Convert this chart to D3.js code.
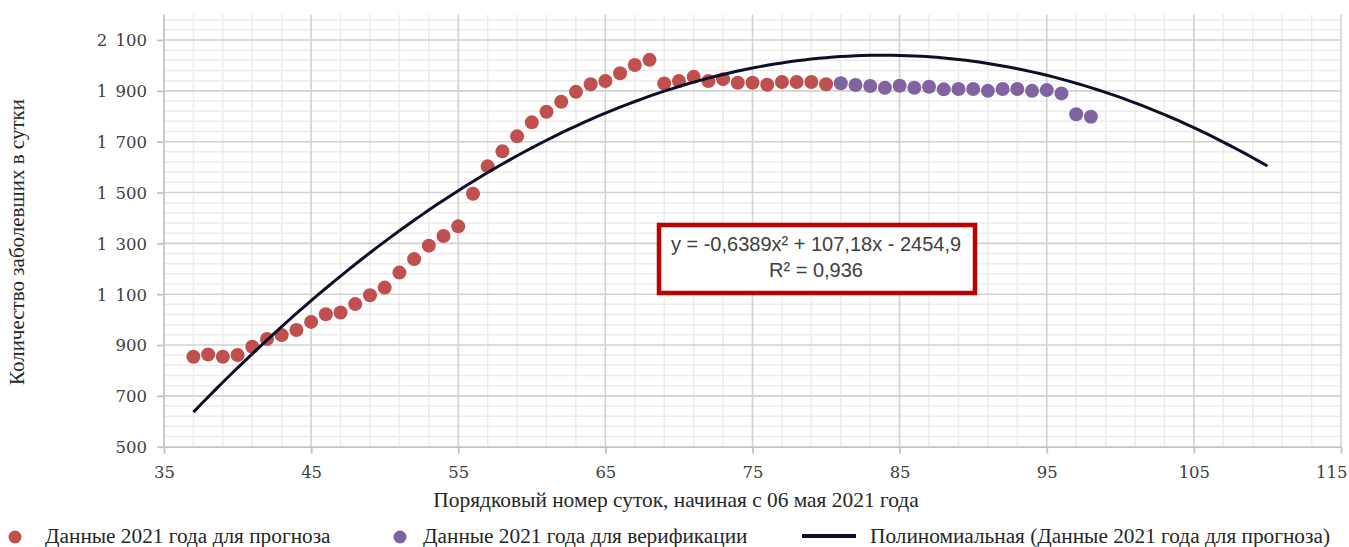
<!DOCTYPE html>
<html lang="ru">
<head>
<meta charset="utf-8">
<script src="https://cdn.jsdelivr.net/npm/d3@7"></script>
<style>
  html, body { margin: 0; padding: 0; background: #ffffff; }
  svg { display: block; }
  .tick-label { font-family: "DejaVu Serif", serif; font-size: 16.5px; fill: #404040; }
  .title { font-family: "Liberation Serif", serif; font-size: 21.4px; fill: #262626; }
  .legend-text { font-family: "Liberation Serif", serif; font-size: 21.3px; fill: #262626; }
  .eq { font-family: "Liberation Sans", sans-serif; font-size: 20px; fill: #404040; }
</style>
</head>
<body>
<svg id="chart" width="1349" height="547"></svg>
<script>
// Daily new cases: days used for the forecast fit
const forecastDays = [37,38,39,40,41,42,43,44,45,46,47,48,49,50,51,52,53,54,55,56,57,58,
                      59,60,61,62,63,64,65,66,67,68,69,70,71,72,73,74,75,76,77,78,79,80];
const forecastCases = [854,863,854,861,893,924,939,959,991,1021,1028,1061,1096,1126,1185,1238,
                       1291,1329,1367,1495,1603,1662,1721,1776,1818,1857,1896,1926,1939,1969,2002,2022,
                       1929,1939,1955,1939,1946,1932,1932,1924,1935,1935,1935,1926];

// Days held out for verification
const verifyDays = [81,82,83,84,85,86,87,88,89,90,91,92,93,94,95,96,97,98];
const verifyCases = [1930,1923,1919,1912,1920,1912,1916,1906,1907,1907,1900,1907,1907,1900,1903,1890,1808,1798];

// Polynomial trend (order 2): y = c0 + c1*x + c2*x^2, drawn from first day to forecast end
const trendCoef = [-2454.9, 107.18, -0.6389];
const trendRange = [37, 110];
const trendLabel = ["y = -0,6389x² + 107,18x - 2454,9", "R² = 0,936"];

// Axis ticks
const xTicks = [35,45,55,65,75,85,95,105,115];
const xTickLabels = ["35","45","55","65","75","85","95","105","115"];
const yTicks = [500,700,900,1100,1300,1500,1700,1900,2100];
const yTickLabels = ["500","700","900","1\u2002100","1\u2002300","1\u2002500","1\u2002700","1\u2002900","2\u2002100"];

const xTitle = "Порядковый номер суток, начиная с 06 мая 2021 года";
const yTitle = "Количество заболевших в сутки";
const legendLabels = ["Данные 2021 года для прогноза", "Данные 2021 года для верификации",
                      "Полиномиальная (Данные 2021 года для прогноза)"];

const colors = { forecast: "#C0504D", verify: "#8064A2", trend: "#0b1028" };

const svg = d3.select("#chart");
const x = d3.scaleLinear().domain([35, 115]).range([164, 1341]);
const y = d3.scaleLinear().domain([500, 2200]).range([446.7, 14.6]);

// Minor gridlines
const minorX = d3.range(37, 115, 2).filter(v => (v - 35) % 10 !== 0);
const minorY = d3.range(540, 2200, 40).filter(v => (v - 500) % 200 !== 0);
const grid = svg.append("g");
grid.selectAll(".mx").data(minorX).join("line")
  .attr("x1", d => x(d)).attr("x2", d => x(d))
  .attr("y1", y(2200)).attr("y2", y(500))
  .attr("stroke", "#ececec").attr("stroke-width", 1.5);
grid.selectAll(".my").data(minorY).join("line")
  .attr("x1", x(35)).attr("x2", x(115))
  .attr("y1", d => y(d)).attr("y2", d => y(d))
  .attr("stroke", "#ececec").attr("stroke-width", 1.5);

// Major gridlines
grid.selectAll(".Mx").data(xTicks.slice(1)).join("line")
  .attr("x1", d => x(d)).attr("x2", d => x(d))
  .attr("y1", y(2200)).attr("y2", y(500))
  .attr("stroke", "#d2d2d2").attr("stroke-width", 1.6);
grid.selectAll(".My").data(yTicks.slice(1)).join("line")
  .attr("x1", x(35)).attr("x2", x(115))
  .attr("y1", d => y(d)).attr("y2", d => y(d))
  .attr("stroke", "#d2d2d2").attr("stroke-width", 1.6);

// Axes
const xAxis = d3.axisBottom(x).tickValues(xTicks).tickSize(7).tickSizeOuter(0)
  .tickFormat((d, i) => xTickLabels[i]);
const yAxis = d3.axisLeft(y).tickValues(yTicks).tickSize(7).tickSizeOuter(0)
  .tickFormat((d, i) => yTickLabels[i]);

const gx = svg.append("g").attr("transform", `translate(0,${y(500)})`).call(xAxis);
const gy = svg.append("g").attr("transform", `translate(${x(35)},0)`).call(yAxis);
[gx, gy].forEach(g => {
  g.select(".domain").attr("stroke", "#c4c4c4").attr("stroke-width", 1.8);
  g.selectAll(".tick line").attr("stroke", "#c4c4c4").attr("stroke-width", 1.8);
  g.selectAll(".tick text").attr("class", "tick-label").attr("fill", null);
});
gy.select(".domain").attr("d", `M0,${y(2200)}V${y(500)}`);
gx.selectAll(".tick text").attr("dy", "0.71em").attr("y", 20);
// keep the last x label inside the plot's right edge
gx.selectAll(".tick text").filter(d => d === 115).attr("text-anchor", "end").attr("x", 6);
gy.selectAll(".tick text").attr("x", -17).attr("dy", "0.36em");

// Markers
const pts = svg.append("g");
pts.selectAll(".f").data(forecastDays).join("circle")
  .attr("cx", d => x(d)).attr("cy", (d, i) => y(forecastCases[i]))
  .attr("r", 7).attr("fill", colors.forecast);
pts.selectAll(".v").data(verifyDays).join("circle")
  .attr("cx", d => x(d)).attr("cy", (d, i) => y(verifyCases[i]))
  .attr("r", 7).attr("fill", colors.verify);

// Trend curve
const poly = t => trendCoef[0] + trendCoef[1] * t + trendCoef[2] * t * t;
const trendX = d3.range(trendRange[0], trendRange[1] + 0.001, 0.5);
svg.append("path")
  .datum(trendX)
  .attr("fill", "none")
  .attr("stroke", colors.trend)
  .attr("stroke-width", 3)
  .attr("stroke-linejoin", "round")
  .attr("d", d3.line().x(d => x(d)).y(d => y(poly(d))));

// Equation label
const eqBox = svg.append("g");
eqBox.append("rect")
  .attr("x", 659).attr("y", 225).attr("width", 316).attr("height", 68)
  .attr("fill", "#ffffff").attr("stroke", "#bd0000").attr("stroke-width", 4.5);
eqBox.selectAll("text").data(trendLabel).join("text")
  .attr("class", "eq")
  .attr("x", 816).attr("y", (d, i) => 251 + i * 26)
  .attr("text-anchor", "middle")
  .text(d => d);

// Axis titles
svg.append("text").attr("class", "title")
  .attr("x", 676).attr("y", 507).attr("text-anchor", "middle")
  .text(xTitle);
svg.append("text").attr("class", "title")
  .attr("transform", "translate(24,242) rotate(-90)")
  .attr("text-anchor", "middle")
  .style("font-size", "21px")
  .text(yTitle);

// Legend
const lg = svg.append("g");
lg.append("circle").attr("cx", 15).attr("cy", 537).attr("r", 6.5).attr("fill", colors.forecast);
lg.append("text").attr("class", "legend-text").attr("x", 45).attr("y", 543).text(legendLabels[0]);
lg.append("circle").attr("cx", 400).attr("cy", 537).attr("r", 6.5).attr("fill", colors.verify);
lg.append("text").attr("class", "legend-text").attr("x", 423).attr("y", 543).text(legendLabels[1]);
lg.append("line").attr("x1", 802).attr("x2", 856).attr("y1", 536).attr("y2", 536)
  .attr("stroke", colors.trend).attr("stroke-width", 4);
lg.append("text").attr("class", "legend-text").attr("x", 870).attr("y", 543).text(legendLabels[2]);
</script>
</body>
</html>
